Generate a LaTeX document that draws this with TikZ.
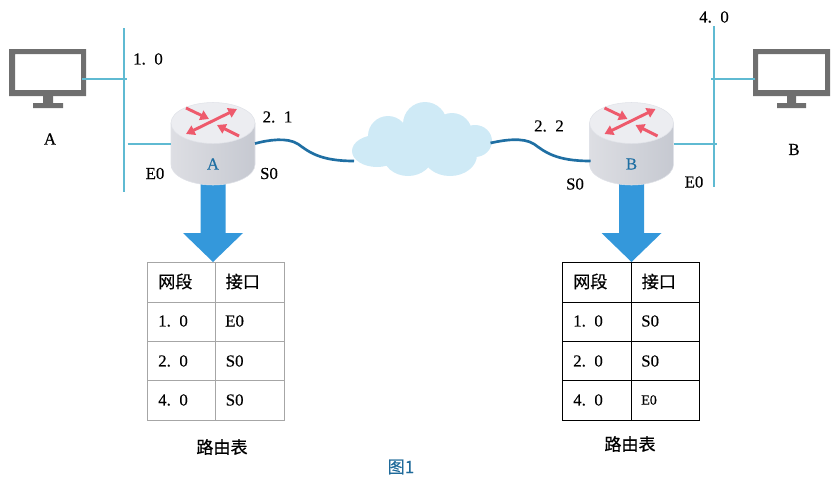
\documentclass[tikz,border=0pt]{standalone}
\usepackage{fontspec}
\setmainfont{Liberation Serif}[WordSpace=1.7,FakeBold=0.35]
\newfontfamily\cjk{Noto Sans CJK SC}[FakeBold=0.5]
\usetikzlibrary{arrows.meta,calc,positioning}
\definecolor{buscolor}{HTML}{5FBAD2}
\definecolor{wancolor}{HTML}{1F6FA3}
\definecolor{cloudcolor}{HTML}{CFEAF6}
\definecolor{downcolor}{HTML}{3498DB}
\definecolor{pccolor}{HTML}{6F6F6F}
\definecolor{redarrow}{HTML}{EE5A6C}
\definecolor{titlecolor}{HTML}{1F6A9A}
\definecolor{caplight}{HTML}{ECEDF1}
\definecolor{capedge}{HTML}{E0E2E8}
\definecolor{sideleft}{HTML}{DDDEE3}
\definecolor{sidemid}{HTML}{D2D4DA}
\definecolor{sideright}{HTML}{C6C9D1}

\begin{document}
\begin{tikzpicture}[x=0.75pt,y=-0.75pt]
		\tikzstyle{every node}=[font=\fontsize{12.6}{14}\selectfont,inner sep=0pt]
		\tikzstyle{lan}=[line width=1.5pt,buscolor]
		\tikzstyle{wan}=[line width=2pt,wancolor]
		\tikzstyle{pcbody}=[fill=pccolor]
		\tikzstyle{flow}=[line width=2.2pt,redarrow,-{Triangle[length=6.5pt,width=7.5pt]}]
		\tikzstyle{cell}=[anchor=west]
		\tikzstyle{cncell}=[anchor=west,font=\cjk\fontsize{12.8}{14}\selectfont]
		\tikzstyle{tabletitle}=[font=\cjk\fontsize{12.8}{14}\selectfont]
		\useasboundingbox (0,0) rectangle (835,483);
		\fill [cloudcolor] (377,151) ellipse [x radius=25,y radius=16];
		\fill [cloudcolor] (388,136) circle [radius=20];
		\fill [cloudcolor] (425,124) circle [radius=22];
		\fill [cloudcolor] (452,133) circle [radius=20];
		\fill [cloudcolor] (475,141) ellipse [x radius=17,y radius=16];
		\fill [cloudcolor] (408,155) ellipse [x radius=25,y radius=21];
		\fill [cloudcolor] (450,155) ellipse [x radius=27,y radius=21];
		\fill [cloudcolor] (375,130) rectangle (470,160);
		\foreach \cx/\rname in {213/A,631.5/B}{
			\fill [downcolor] (\cx-12.5,180) -- (\cx+12.5,180) -- (\cx+12.5,233) -- (\cx+30,233) -- (\cx,262) -- (\cx-30,233) -- (\cx-12.5,233) -- cycle;
			\draw [draw=capedge,left color=sideleft,middle color=sidemid,right color=sideright] (\cx-42,123) -- (\cx-42,164.5) arc [start angle=180,end angle=0,x radius=42,y radius=20.5] -- (\cx+42,123) -- cycle;
			\draw [draw=capedge,fill=caplight] (\cx,123) ellipse [x radius=42,y radius=20.5];
			\draw [flow,{Triangle[length=6.5pt,width=7.5pt]}-{Triangle[length=6.5pt,width=7.5pt]}] (\cx-27,134) -- (\cx+24,109);
			\draw [flow] (\cx-27,108) -- (\cx-4,119);
			\draw [flow] (\cx+26,136) -- (\cx+4,125);
			\node [text=wancolor] (router\rname) at (\cx,164) {\rname};
			\coordinate (portw\rname) at (\cx-42,143.5);
			\coordinate (porte\rname) at (\cx+42,143.5);
		}
		\fill [pcbody,even odd rule] (9,49) rectangle (86,96) (15,54) rectangle (81,90);
		\fill [pcbody] (43,96) rectangle (53,103) (33,103) rectangle (63,108);
		\fill [pcbody,even odd rule] (753,49) rectangle (830,96) (758,54) rectangle (825,90);
		\fill [pcbody] (787,96) rectangle (796,103) (777,103) rectangle (806,108);
		\coordinate (busAtop) at (123.5,28);
		\coordinate (busAbot) at (123.5,191.5);
		\coordinate (busBtop) at (713.5,26);
		\coordinate (busBbot) at (713.5,187);
		\coordinate (pcAport) at (82,78.5);
		\coordinate (pcAtap) at (126.5,78.5);
		\coordinate (pcBport) at (755,78.5);
		\coordinate (pcBtap) at (711,78.5);
		\coordinate (Atap) at (127.5,143.5);
		\coordinate (Btap) at (716.5,143.5);
		\draw [lan] (busAtop) -- (busAbot);
		\draw [lan] (busBtop) -- (busBbot);
		\draw [lan] (pcAport) -- (pcAtap);
		\draw [lan] (pcBport) -- (pcBtap);
		\draw [lan] (Atap) -- (portwA);
		\draw [lan] (porteB) -- (Btap);
		\coordinate (cloudleft) at (354,161);
		\coordinate (cloudright) at (490.5,143);
		\coordinate (Bserial) at (590.5,161);
		\draw [wan] (porteA) .. controls (268,140) and (287,137) .. (298,144) .. controls (309,152) and (320,161) .. (cloudleft);
		\draw [wan] (cloudright) .. controls (504,140) and (523,137) .. (534,144) .. controls (545,152) and (556,161) .. (Bserial);
		\foreach \tx/\ty/\tcolor/\tname in {147.5/215.5/black!35/A,562.5/631.5/black/B}{
			\draw [line width=0.75pt,\tcolor] (\tx,262) rectangle (\tx+136.5,420);
			\foreach \ry in {302,341.5,380.5}
				\draw [line width=0.75pt,\tcolor] (\tx,\ry) -- (\tx+136.5,\ry);
			\draw [line width=0.75pt,\tcolor] (\ty,262) -- (\ty,420);
			\node [cncell] (seg\tname) at (\tx+10.5,281.5) {网段};
			\node [cncell] (port\tname) at (\ty+10,281.5) {接口};
			\node [cell] (seg\tname 1) at (\tx+10.5,321) {1. 0};
			\node [cell] (seg\tname 2) at (\tx+10.5,361) {2. 0};
			\node [cell] (seg\tname 4) at (\tx+10.5,400) {4. 0};
		}
		\node [cell] (portA1) at (225,321) {E0};
		\node [cell] (portA2) at (225.5,361) {S0};
		\node [cell] (portA4) at (225.5,400) {S0};
		\node [cell] (portB1) at (641,321) {S0};
		\node [cell] (portB2) at (641,361) {S0};
		\node [cell,font=\fontsize{10.5}{12}\selectfont] (portB4) at (641,400) {E0};
		\node [tabletitle] (titleA) at (222,447) {路由表};
		\node [tabletitle] (titleB) at (630,444) {路由表};
		\node (labelA) at (50,139) {A};
		\node (labelB) at (794,149.5) {B};
		\node (net1) at (148,59) {1. 0};
		\node (net21) at (277.5,117) {2. 1};
		\node (net22) at (549,126) {2. 2};
		\node (net4) at (714,17) {4. 0};
		\node (ifAe) at (155,173.5) {E0};
		\node (ifAs) at (269,173.5) {S0};
		\node (ifBs) at (575,184) {S0};
		\node (ifBe) at (694,182) {E0};
		\node [text=titlecolor,font=\cjk\fontsize{12.8}{14}\selectfont] (figtitle) at (401,467) {图1};
		\end{tikzpicture}
\end{document}
